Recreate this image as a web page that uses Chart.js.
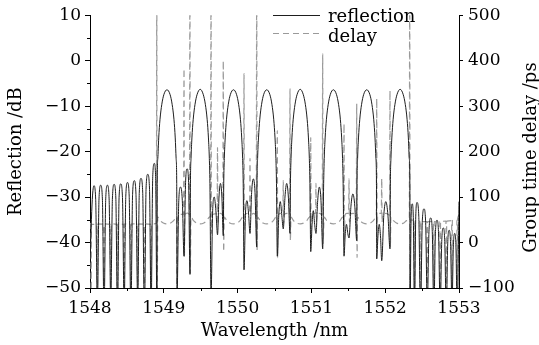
<!DOCTYPE html>
<html>
<head>
<meta charset="utf-8">
<script src="https://cdn.jsdelivr.net/npm/chart.js@4.4.1/dist/chart.umd.min.js"></script>
<style>
  html, body { margin: 0; padding: 0; background: #fff; }
  canvas { display: block; }
</style>
</head>
<body>
<canvas id="chart" width="539" height="345"></canvas>
<script>
// reflection spectrum (wavelength nm / dB)
const reflWavelength = [
  // below the band
  1548.000, 1548.031, 1548.054, 1548.077, 1548.100,
  1548.122, 1548.145, 1548.168, 1548.190, 1548.213, 1548.236, 1548.259, 1548.281,
  1548.304, 1548.327, 1548.350, 1548.372, 1548.394, 1548.417, 1548.440, 1548.463,
  1548.485, 1548.508, 1548.531, 1548.554, 1548.577, 1548.600, 1548.623, 1548.646,
  1548.668, 1548.691, 1548.714, 1548.737, 1548.760, 1548.783, 1548.806, 1548.828,
  1548.850, 1548.871, 1548.889, 1548.908,
  // channel 1 + gap
  1548.911, 1548.919, 1548.931, 1548.948, 1548.973, 1549.002, 1549.043, 1549.084, 1549.113, 1549.138, 1549.155, 1549.167, 1549.175,
  1549.179, 1549.203, 1549.227, 1549.251, 1549.274, 1549.295, 1549.316, 1549.336, 1549.355,
  // channel 2 + gap
  1549.361, 1549.369, 1549.381, 1549.398, 1549.423, 1549.452, 1549.493, 1549.534, 1549.563, 1549.588, 1549.605, 1549.617, 1549.625,
  1549.640, 1549.662, 1549.684, 1549.706, 1549.728, 1549.748, 1549.768, 1549.787, 1549.806,
  // channel 3 + gap
  1549.812, 1549.820, 1549.832, 1549.849, 1549.874, 1549.903, 1549.944, 1549.985, 1550.014, 1550.039, 1550.056, 1550.068, 1550.076,
  1550.087, 1550.107, 1550.127, 1550.148, 1550.168, 1550.190, 1550.213, 1550.236, 1550.259,
  // channel 4 + gap
  1550.263, 1550.271, 1550.283, 1550.300, 1550.325, 1550.354, 1550.395, 1550.436, 1550.465, 1550.490, 1550.507, 1550.519, 1550.527,
  1550.538, 1550.558, 1550.579, 1550.599, 1550.619, 1550.642, 1550.665, 1550.688, 1550.710,
  // channel 5 + gap
  1550.716, 1550.724, 1550.736, 1550.753, 1550.778, 1550.807, 1550.848, 1550.889, 1550.918, 1550.943, 1550.960, 1550.972, 1550.980,
  1550.991, 1551.009, 1551.026, 1551.044, 1551.062, 1551.085, 1551.108, 1551.130, 1551.153,
  // channel 6 + gap
  1551.166, 1551.174, 1551.186, 1551.203, 1551.228, 1551.257, 1551.298, 1551.339, 1551.368, 1551.393, 1551.410, 1551.422, 1551.430,
  1551.442, 1551.459, 1551.476, 1551.493, 1551.510, 1551.536, 1551.562, 1551.588, 1551.614,
  // channel 7 + gap
  1551.618, 1551.626, 1551.638, 1551.655, 1551.680, 1551.709, 1551.750, 1551.791, 1551.820, 1551.845, 1551.862, 1551.874, 1551.882,
  1551.885, 1551.902, 1551.919, 1551.936, 1551.953, 1551.981, 1552.009, 1552.037, 1552.065,
  // channel 8
  1552.070, 1552.078, 1552.090, 1552.107, 1552.132, 1552.161, 1552.202, 1552.243, 1552.272, 1552.297, 1552.314, 1552.326, 1552.334,
  // above the band
  1552.336, 1552.351, 1552.366, 1552.381, 1552.397, 1552.414, 1552.431, 1552.455, 1552.478,
  1552.502, 1552.526, 1552.548, 1552.570, 1552.593, 1552.617, 1552.638, 1552.659,
  1552.680, 1552.702, 1552.723, 1552.745, 1552.766, 1552.787, 1552.807, 1552.828,
  1552.847, 1552.867, 1552.886, 1552.905, 1552.923, 1552.942, 1552.959, 1552.976, 1553.000
];
const reflectionDb = [
  -44, -30.5, -27.5, -30.5, -54,
  -30.4, -27.4, -30.4, -56, -30.4, -27.4, -30.4, -53,
  -30.2, -27.2, -30.2, -56, -30.1, -27.1, -30.1, -54,
  -29.8, -26.8, -29.8, -56, -29.4, -26.4, -29.4, -53,
  -28.9, -25.9, -28.9, -56, -28.0, -25.0, -28.0, -55,
  -25.5, -22.6, -25.5, -56,
  -27, -21.5, -17, -13, -9.6, -7.4, -6.4, -7.4, -9.6, -13, -17, -21.5, -27,
  -52, -30.8, -27.8, -30.8, -43, -26.8, -23.8, -26.8, -47,
  -27, -21.5, -17, -13, -9.6, -7.4, -6.3, -7.4, -9.6, -13, -17, -21.5, -27,
  -52, -33, -30, -33, -38.3, -30, -27, -30, -38.5,
  -27, -21.5, -17, -13, -9.6, -7.4, -6.4, -7.4, -9.6, -13, -17, -21.5, -27,
  -46, -33.5, -30.8, -33.5, -38, -29, -26, -29, -41,
  -27, -21.5, -17, -13, -9.6, -7.4, -6.4, -7.4, -9.6, -13, -17, -21.5, -27,
  -43, -34, -31, -34, -37, -30, -27, -30, -38,
  -27, -21.5, -17, -13, -9.6, -7.4, -6.3, -7.4, -9.6, -13, -17, -21.5, -27,
  -42, -36, -33, -36, -38, -30.8, -27.8, -30.8, -41.4,
  -27, -21.5, -17, -13, -9.6, -7.4, -6.4, -7.4, -9.6, -13, -17, -21.5, -27,
  -43, -38, -36, -38, -39, -32, -29.3, -32, -39.6,
  -27, -21.5, -17, -13, -9.6, -7.4, -6.4, -7.4, -9.6, -13, -17, -21.5, -27,
  -43.6, -38.5, -36, -38.5, -44, -34, -31, -34, -41.4,
  -27, -21.5, -17, -13, -9.6, -7.4, -6.3, -7.4, -9.6, -13, -17, -21.5, -27,
  -56, -34.5, -31.5, -34.5, -55, -34.2, -31.2, -34.2, -56,
  -35.6, -32.6, -35.6, -54, -37.6, -34.6, -37.6, -56,
  -38.1, -35.1, -38.1, -55, -39.8, -36.8, -39.8, -56,
  -40.3, -37.3, -40.3, -54, -41, -38, -41, -56, -31
];

// group time delay (wavelength nm / ps)
const delayWavelength = [
  1548.000, 1548.012, 1548.016, 1548.020, 1548.095, 1548.100, 1548.105,
  1548.185, 1548.190, 1548.195, 1548.276, 1548.281, 1548.286, 1548.367, 1548.372, 1548.377,
  1548.458, 1548.463, 1548.468, 1548.549, 1548.554, 1548.559, 1548.641, 1548.646, 1548.651,
  1548.732, 1548.737, 1548.742, 1548.823, 1548.828, 1548.833, 1548.900, 1548.905, 1548.909,
  1548.918, 1548.953, 1548.993, 1549.043, 1549.093, 1549.133, 1549.168,
  1549.175, 1549.179, 1549.184, 1549.225, 1549.268, 1549.274, 1549.279, 1549.285, 1549.320, 1549.348, 1549.354, 1549.359,
  1549.368, 1549.403, 1549.443, 1549.493, 1549.543, 1549.583, 1549.618,
  1549.634, 1549.640, 1549.645, 1549.652, 1549.690, 1549.722, 1549.728, 1549.733, 1549.740, 1549.770, 1549.800, 1549.806, 1549.811,
  1549.819, 1549.854, 1549.894, 1549.944, 1549.994, 1550.034, 1550.069,
  1550.081, 1550.087, 1550.092, 1550.099, 1550.130, 1550.162, 1550.168, 1550.173, 1550.180, 1550.220, 1550.253, 1550.259, 1550.264,
  1550.270, 1550.305, 1550.345, 1550.395, 1550.445, 1550.485, 1550.520,
  1550.532, 1550.538, 1550.543, 1550.550, 1550.585, 1550.613, 1550.619, 1550.624, 1550.631, 1550.670, 1550.704, 1550.710, 1550.715,
  1550.723, 1550.758, 1550.798, 1550.848, 1550.898, 1550.938, 1550.973,
  1550.985, 1550.991, 1550.996, 1551.003, 1551.035, 1551.056, 1551.062, 1551.067, 1551.074, 1551.115, 1551.147, 1551.153, 1551.158,
  1551.173, 1551.208, 1551.248, 1551.298, 1551.348, 1551.388, 1551.423,
  1551.436, 1551.442, 1551.447, 1551.454, 1551.480, 1551.504, 1551.510, 1551.515, 1551.522, 1551.570, 1551.608, 1551.614, 1551.619,
  1551.625, 1551.660, 1551.700, 1551.750, 1551.800, 1551.840, 1551.875,
  1551.880, 1551.885, 1551.890, 1551.897, 1551.925, 1551.947, 1551.953, 1551.958, 1551.965, 1552.015, 1552.059, 1552.065, 1552.070,
  1552.077, 1552.112, 1552.152, 1552.202, 1552.252, 1552.292, 1552.327,
  1552.332, 1552.337, 1552.343, 1552.392, 1552.397, 1552.402, 1552.473, 1552.478, 1552.483,
  1552.565, 1552.570, 1552.575, 1552.654, 1552.659, 1552.664, 1552.740, 1552.745, 1552.750,
  1552.823, 1552.828, 1552.833, 1552.900, 1552.905, 1552.910, 1552.971, 1552.976, 1552.981, 1553.000
];
const delayPs = [
  42, 40, -160, 40, 40, -160, 41,
  40, -160, 41, 40, -160, 41, 40, -160, 41,
  40, -160, 41, 40, -160, 41, 40, -160, 41,
  40, -160, 41, 40, -160, 41, 42, 620, -200,
  56, 48, 43, 41, 43, 48, 56,
  56, -160, 52, 62, 62, 382, -33, 60, 65, 62, 620, -68,
  56, 48, 43, 41, 43, 48, 56,
  60, 620, 20, 60, 63, 65, 209, 40, 62, 64, 62, 400, -20,
  56, 48, 43, 41, 43, 48, 56,
  60, 371, 26, 60, 64, 64, 185, 70, 62, 64, 60, 620, -17,
  56, 48, 43, 41, 43, 48, 56,
  60, 246, -33, 60, 64, 64, 136, 42, 62, 64, 60, 338, 4,
  56, 48, 43, 41, 43, 48, 56,
  60, 231, 11, 60, 64, 64, 130, 45, 62, 64, 60, 415, -2,
  56, 48, 43, 41, 43, 48, 56,
  60, 261, 4, 60, 64, 64, 140, 45, 62, 64, 60, 305, -33,
  56, 48, 43, 41, 43, 48, 56,
  60, 316, 0, 60, 64, 64, 140, 45, 62, 64, 60, 334, -10,
  56, 48, 43, 41, 43, 48, 56,
  620, -200, 50, 47, -160, 47, 46, -160, 46,
  46, -160, 46, 46, -160, 46, 46, -160, 46,
  47, -160, 47, 48, -160, 48, 50, -160, 52, 60
];

// axis ticks
const xMajorTicks = [1548, 1549, 1550, 1551, 1552, 1553];
const xMinorTicks = [1548.5, 1549.5, 1550.5, 1551.5, 1552.5];
const dbMajorTicks = [-50, -40, -30, -20, -10, 0, 10];
const dbMinorTicks = [-45, -35, -25, -15, -5, 5];
const psTicks = [-100, 0, 100, 200, 300, 400, 500];

const FONT = '"DejaVu Serif", serif';
const REFL_COLOR = '#1e1e1e';
const DELAY_COLOR = '#9a9a9a';

function minus(v) {
  return v < 0 ? '\u2212' + Math.abs(v) : String(v);
}

// short minor ticks on the left and bottom axes
const minorTicks = {
  id: 'minorTicks',
  afterDraw(chart) {
    const ctx = chart.ctx;
    const x = chart.scales.x, y = chart.scales.y;
    ctx.save();
    ctx.strokeStyle = '#000';
    ctx.lineWidth = 1;
    ctx.beginPath();
    xMinorTicks.forEach(v => {
      const px = Math.round(x.getPixelForValue(v)) + 0.5;
      ctx.moveTo(px, x.top);
      ctx.lineTo(px, x.top + 3);
    });
    dbMinorTicks.forEach(v => {
      const py = Math.round(y.getPixelForValue(v)) + 0.5;
      ctx.moveTo(y.right, py);
      ctx.lineTo(y.right - 3, py);
    });
    ctx.stroke();
    ctx.restore();
  }
};

// legend in the upper right and the right axis title (reads bottom to top)
const decorations = {
  id: 'decorations',
  afterDraw(chart) {
    const ctx = chart.ctx;
    const area = chart.chartArea;
    ctx.save();
    ctx.lineWidth = 1;
    ctx.strokeStyle = REFL_COLOR;
    ctx.beginPath();
    ctx.moveTo(273, 15.5);
    ctx.lineTo(320, 15.5);
    ctx.stroke();
    ctx.strokeStyle = DELAY_COLOR;
    ctx.lineWidth = 1.2;
    ctx.setLineDash([6, 4]);
    ctx.beginPath();
    ctx.moveTo(273, 33.5);
    ctx.lineTo(320, 33.5);
    ctx.stroke();
    ctx.setLineDash([]);
    ctx.fillStyle = '#000';
    ctx.font = '18px ' + FONT;
    ctx.textAlign = 'left';
    ctx.textBaseline = 'alphabetic';
    ctx.fillText('reflection', 328, 21.5);
    ctx.fillText('delay', 328, 41.5);

    ctx.translate(531, (area.top + area.bottom) / 2 + 6);
    ctx.rotate(-Math.PI / 2);
    ctx.textAlign = 'center';
    ctx.textBaseline = 'middle';
    ctx.fillText('Group time delay /ps', 0, 0);
    ctx.restore();
  }
};

new Chart(document.getElementById('chart'), {
  type: 'line',
  data: {
    datasets: [{
      label: 'reflection',
      data: reflWavelength.map((w, i) => ({ x: w, y: reflectionDb[i] })),
      yAxisID: 'y',
      borderColor: REFL_COLOR,
      borderWidth: 1,
      pointRadius: 0,
      fill: false,
      cubicInterpolationMode: 'monotone'
    }, {
      label: 'delay',
      data: delayWavelength.map((w, i) => ({ x: w, y: delayPs[i] })),
      yAxisID: 'y2',
      borderColor: DELAY_COLOR,
      borderWidth: 1.2,
      borderDash: [6, 4],
      pointRadius: 0,
      fill: false,
      cubicInterpolationMode: 'monotone'
    }]
  },
  options: {
    responsive: false,
    animation: false,
    events: [],
    layout: { padding: { top: 15, left: 0, right: 0, bottom: 0 } },
    plugins: { legend: { display: false }, tooltip: { enabled: false } },
    scales: {
      x: {
        type: 'linear',
        min: 1548,
        max: 1553,
        afterBuildTicks: s => { s.ticks = xMajorTicks.map(v => ({ value: v })); },
        afterFit: s => { s.height = 57; },
        grid: { drawOnChartArea: false, tickLength: 5, color: '#000' },
        border: { display: true, color: '#000', width: 1 },
        ticks: {
          autoSkip: false, maxRotation: 0, padding: 5, color: '#000',
          font: { family: FONT, size: 17 },
          callback: v => String(v)
        },
        title: {
          display: true, text: 'Wavelength /nm', color: '#000',
          font: { family: FONT, size: 18 }, padding: { top: 0, bottom: 3 }
        }
      },
      y: {
        position: 'left',
        min: -50,
        max: 10,
        afterBuildTicks: s => { s.ticks = dbMajorTicks.map(v => ({ value: v })); },
        afterFit: s => { s.width = 90; },
        grid: { drawOnChartArea: false, tickLength: 5, color: '#000' },
        border: { display: true, color: '#000', width: 1 },
        ticks: {
          autoSkip: false, padding: 4, color: '#000',
          font: { family: FONT, size: 17 },
          callback: v => minus(v)
        },
        title: {
          display: true, text: 'Reflection /dB', color: '#000',
          font: { family: FONT, size: 18 }, padding: { top: 6, bottom: 0 }
        }
      },
      y2: {
        position: 'right',
        min: -100,
        max: 500,
        afterBuildTicks: s => { s.ticks = psTicks.map(v => ({ value: v })); },
        afterFit: s => { s.width = 80; },
        grid: { drawOnChartArea: false, tickLength: 4, color: '#000' },
        border: { display: true, color: '#000', width: 1 },
        ticks: {
          autoSkip: false, padding: 5, color: '#000',
          font: { family: FONT, size: 17 },
          callback: v => minus(v)
        }
      }
    }
  },
  plugins: [minorTicks, decorations]
});
</script>
</body>
</html>
